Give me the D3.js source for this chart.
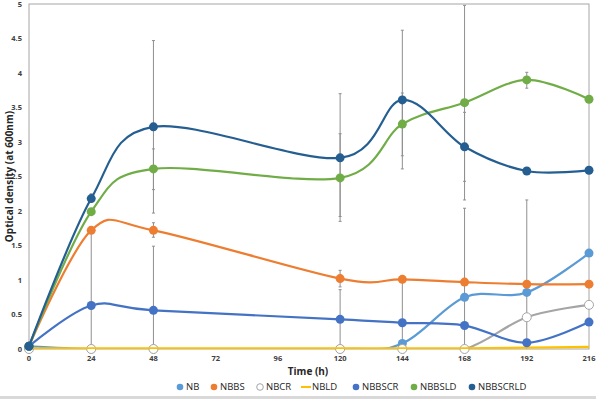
<!DOCTYPE html>
<html>
<head>
<meta charset="utf-8">
<script src="https://cdn.jsdelivr.net/npm/d3@7"></script>
<style>
  body { margin: 0; background: #fff; }
  svg { font-family: "Open Sans", "Liberation Sans", sans-serif; }
  .tick-label { font-size: 7.5px; font-weight: bold; fill: #404040; }
  .axis-title { font-size: 10px; font-weight: bold; fill: #262626; }
  .legend-text { font-size: 9.5px; fill: #262626; }
</style>
</head>
<body>
<svg id="chart"></svg>
<script>
// time points (h)
const times = [0, 24, 48, 120, 144, 168, 192, 216];
const xTicks = [0, 24, 48, 72, 96, 120, 144, 168, 192, 216];
const yTicks = [0, 0.5, 1, 1.5, 2, 2.5, 3, 3.5, 4, 4.5, 5];

const seriesNames = ['NB', 'NBBS', 'NBCR', 'NBLD', 'NBBSCR', 'NBBSLD', 'NBBSCRLD'];
const seriesColors = ['#5b9bd5', '#ed7d31', '#a5a5a5', '#ffc000', '#4472c4', '#70ad47', '#255e91'];

const nbValues       = [0.04, 0, 0, 0, 0.08, 0.75, 0.82, 1.39];
const nbbsValues     = [0.04, 1.72, 1.72, 1.02, 1.01, 0.97, 0.94, 0.94];
const nbcrValues     = [0, 0, 0, 0, 0, 0, 0.46, 0.64];
const nbldValues     = [0.01, 0.01, 0.01, 0.01, 0.01, 0.01, 0.02, 0.03];
const nbbscrValues   = [0.04, 0.63, 0.56, 0.43, 0.38, 0.34, 0.09, 0.39];
const nbbsldValues   = [0.04, 1.99, 2.61, 2.48, 3.26, 3.57, 3.9, 3.62];
const nbbscrldValues = [0.04, 2.18, 3.22, 2.77, 3.61, 2.93, 2.58, 2.59];

// error bars as [time, low, high]
const errorBars = [
  [24, 2.13, 2.25], [24, 0, 1.72],
  [48, 1.97, 4.47], [48, 2.31, 2.9], [48, 1.62, 1.83], [48, 0, 1.49],
  [120, 1.85, 3.7], [120, 1.92, 3.12], [120, 0.9, 1.14], [120, 0, 0.86],
  [144, 2.61, 4.62], [144, 2.8, 3.71], [144, 0, 1.0],
  [168, 2.16, 4.98], [168, 2.43, 3.43], [168, 0, 2.04],
  [192, 3.78, 4.01], [192, 0, 2.16]
];

const allValues = [nbValues, nbbsValues, nbcrValues, nbldValues, nbbscrValues, nbbsldValues, nbbscrldValues];
const withMarkers = [true, true, true, false, true, true, true];

const width = 596, height = 399;
const margin = {top: 4, right: 7, bottom: 50, left: 29};
const innerW = width - margin.left - margin.right;
const innerH = height - margin.top - margin.bottom;

const svg = d3.select('#chart').attr('width', width).attr('height', height);

const xScale = d3.scaleLinear().domain([0, 216]).range([0, innerW]);
const yScale = d3.scaleLinear().domain([0, 5]).range([innerH, 0]);

const chart = svg.append('g')
    .attr('transform', `translate(${margin.left},${margin.top})`);

// plot frame
chart.append('rect')
    .attr('width', innerW).attr('height', innerH)
    .attr('fill', 'none').attr('stroke', '#a6a6a6').attr('stroke-width', 1);

// y tick labels
chart.append('g').selectAll('text')
  .data(yTicks)
  .join('text')
    .attr('class', 'tick-label')
    .attr('x', -7)
    .attr('y', d => yScale(d))
    .attr('dy', '0.35em')
    .attr('text-anchor', 'end')
    .text(d => d);

// x tick labels
chart.append('g').selectAll('text')
  .data(xTicks)
  .join('text')
    .attr('class', 'tick-label')
    .attr('x', d => xScale(d))
    .attr('y', innerH + 12)
    .attr('text-anchor', 'middle')
    .text(d => d);

// axis titles
chart.append('text')
    .attr('class', 'axis-title')
    .attr('x', innerW / 2 - 1)
    .attr('y', innerH + 26)
    .attr('text-anchor', 'middle')
    .text('Time (h)');

svg.append('text')
    .attr('class', 'axis-title')
    .attr('transform', `translate(13,${margin.top + innerH / 2}) rotate(-90)`)
    .attr('text-anchor', 'middle')
    .text('Optical density (at 600nm)');

// error bars
const errG = chart.append('g')
    .attr('stroke', '#8f8f8f').attr('stroke-width', 1);
errorBars.forEach(([t, lo, hi]) => {
  const x = xScale(t);
  errG.append('line')
      .attr('x1', x).attr('x2', x)
      .attr('y1', yScale(lo)).attr('y2', yScale(hi));
  [lo, hi].forEach(v => {
    if (v > 0) {
      errG.append('line')
          .attr('x1', x - 1.5).attr('x2', x + 1.5)
          .attr('y1', yScale(v)).attr('y2', yScale(v));
    }
  });
});

// lines
svg.append('defs').append('clipPath').attr('id', 'clip')
  .append('rect').attr('x', 0).attr('y', -2).attr('width', innerW).attr('height', innerH + 2);

const line = d3.line()
    .x((d, i) => xScale(times[i]))
    .y(d => yScale(d))
    .curve(d3.curveCatmullRom.alpha(0));

seriesNames.forEach((name, s) => {
  const vals = allValues[s];
  chart.append('path')
      .attr('clip-path', 'url(#clip)')
      .attr('d', line(vals))
      .attr('fill', 'none')
      .attr('stroke', seriesColors[s])
      .attr('stroke-width', 2.2);
  if (withMarkers[s]) {
    chart.append('g').selectAll('circle')
      .data(vals)
      .join('circle')
        .attr('cx', (d, i) => xScale(times[i]))
        .attr('cy', d => yScale(d))
        .attr('r', 4.5)
        .attr('fill', name === 'NBCR' ? '#fff' : seriesColors[s])
        .attr('stroke', name === 'NBCR' ? '#a5a5a5' : 'none')
        .attr('stroke-width', 1);
  }
});

// legend
const legendX = [176, 210, 256, 302, 352, 410, 468];
const legend = svg.append('g').attr('transform', `translate(0,${height - 12})`);
seriesNames.forEach((name, s) => {
  const g = legend.append('g').attr('transform', `translate(${legendX[s]},0)`);
  if (withMarkers[s]) {
    g.append('circle').attr('cx', 4).attr('cy', 0).attr('r', 3.3)
        .attr('fill', name === 'NBCR' ? '#fff' : seriesColors[s])
        .attr('stroke', name === 'NBCR' ? '#a5a5a5' : 'none');
  } else {
    g.append('line').attr('x1', -1).attr('x2', 9).attr('y1', 0).attr('y2', 0)
        .attr('stroke', seriesColors[s]).attr('stroke-width', 2);
  }
  g.append('text')
      .attr('class', 'legend-text')
      .attr('x', 10)
      .attr('dy', '0.35em')
      .text(name);
});

// outer bottom edge
svg.append('line')
    .attr('x1', 0).attr('x2', width).attr('y1', height - 1.5).attr('y2', height - 1.5)
    .attr('stroke', '#d9d9d9').attr('stroke-width', 3);
</script>
</body>
</html>
